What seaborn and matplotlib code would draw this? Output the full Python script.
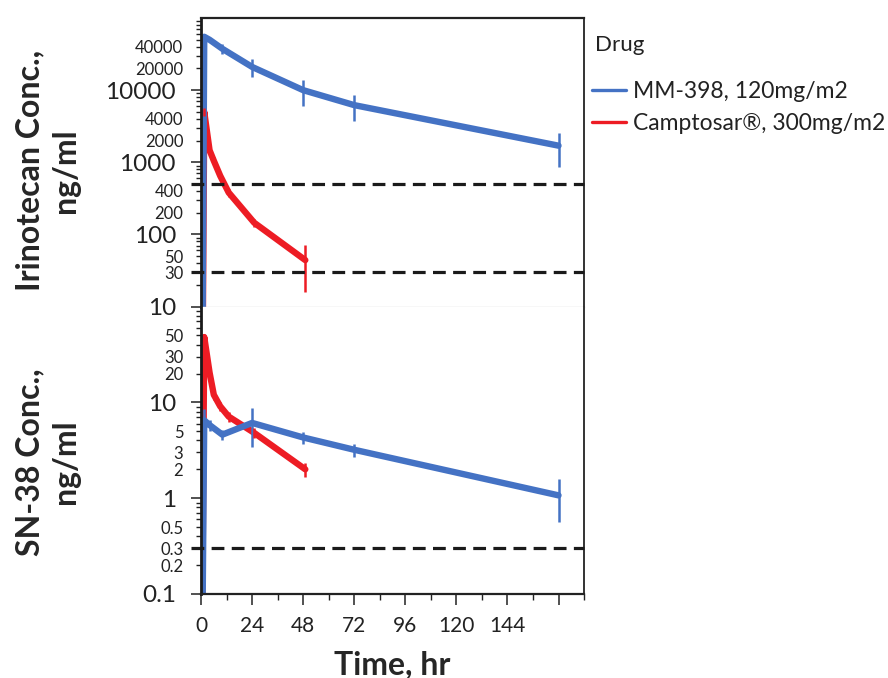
import numpy as np
import pandas as pd
import seaborn as sns
import matplotlib
matplotlib.use('Agg')
import matplotlib.pyplot as plt


drugs = ['MM-398, 120mg/m2', 'Camptosar®, 300mg/m2']
drug_colors = ['#4472c4', '#ed1c24']

# MM-398 sampling times (hr), mean concentrations and sd
mm_time = [0, 1.5, 4, 10, 24, 48, 72, 168]
mm_irino = [0.001, 55000, 50000, 37500, 21000, 10000, 6200, 1700]
mm_irino_sd = [0, 0, 0, 5500, 6000, 4000, 2500, 830]
mm_sn38 = [0.001, 6.5, 5.8, 4.6, 6.1, 4.3, 3.2, 1.07]
mm_sn38_sd = [0, 2.0, 0.8, 0.6, 2.7, 0.6, 0.5, 0.5]

# Camptosar sampling times (hr), mean concentrations and sd
cpt_time = [0, 1.5, 4, 6, 9, 13, 25, 49]
cpt_irino = [0.001, 5000, 1470, 1050, 650, 380, 145, 44]
cpt_irino_sd = [0, 600, 150, 120, 80, 50, 20, 28]
cpt_sn38 = [0.001, 48, 20.5, 12, 9.1, 7.1, 4.8, 2.0]
cpt_sn38_sd = [0, 4, 2, 1.5, 1.0, 0.8, 0.6, 0.35]

# quantitation limits (dashed lines)
irino_limits = [500, 30]
sn38_limits = [0.3]

irino_major = [10, 100, 1000, 10000]
irino_minor_labels = [30, 50, 200, 400, 2000, 4000, 20000, 40000]
sn38_major = [0.1, 1, 10]
sn38_minor_labels = [0.2, 0.3, 0.5, 2, 3, 5, 20, 30, 50]

x_major = [0, 24, 48, 72, 96, 120, 144, 168]
x_labels = ['0', '24', '48', '72', '96', '120', '144', '']
x_minor = list(range(0, 181, 12))


def make_frame(mm_vals, cpt_vals):
    df_mm = pd.DataFrame({'time': mm_time, 'conc': mm_vals, 'drug': drugs[0]})
    df_cpt = pd.DataFrame({'time': cpt_time, 'conc': cpt_vals, 'drug': drugs[1]})
    return pd.concat([df_mm, df_cpt], ignore_index=True)


def draw_panel(ax, df, mm_sd, cpt_sd, ylim, major, minor_labels, limits):
    # Camptosar drawn first so the MM-398 line sits on top of it
    sns.lineplot(data=df, x='time', y='conc', hue='drug', hue_order=drugs[::-1],
                 palette=drug_colors[::-1], linewidth=4.6, errorbar=None, legend=False, ax=ax)
    for drug, color, sd in zip(drugs, drug_colors, [mm_sd, cpt_sd]):
        sub = df[df['drug'] == drug]
        ax.errorbar(sub['time'], sub['conc'], yerr=sd, fmt='none', ecolor=color,
                    elinewidth=1.8, capsize=0, zorder=3)
    for v in limits:
        ax.axhline(v, xmin=-0.027, xmax=1, color='#1a1a1a', lw=2.3, dashes=(4, 2.3),
                   clip_on=False, zorder=4)

    ax.set_yscale('log')
    ax.set_ylim(*ylim)
    ax.set_xlim(0, 180)
    ax.set_yticks(major, [f'{v:g}' for v in major])
    lo, hi = int(np.log10(ylim[0])), int(np.log10(ylim[1]))
    minor = []
    for d in range(lo, hi):
        for m in range(2, 10):
            minor.append(round(m * 10.0 ** d, 6))
    minor_text = [f'{v:g}' if np.any(np.isclose(v, minor_labels)) else '' for v in minor]
    ax.set_yticks(minor, minor_text, minor=True)
    ax.tick_params(axis='y', which='major', length=7, width=1.1, labelsize=17.5, pad=11, color='#222222')
    ax.tick_params(axis='y', which='minor', length=3.8, width=1.0, labelsize=12, pad=9, color='#222222')
    ax.set_xlabel('')


sns.set_style('ticks')
plt.rcParams['font.family'] = ['Lato', 'DejaVu Sans']
plt.rcParams['text.color'] = '#222222'
plt.rcParams['xtick.labelcolor'] = '#222222'
plt.rcParams['ytick.labelcolor'] = '#222222'

fig = plt.figure(figsize=(8.88, 6.78), dpi=100)
ax_top = fig.add_axes([0.2264, 0.5479, 0.4313, 0.4255])
ax_bot = fig.add_axes([0.2264, 0.1239, 0.4313, 0.4240])

draw_panel(ax_top, make_frame(mm_irino, cpt_irino), mm_irino_sd, cpt_irino_sd,
           (10, 100000), irino_major, irino_minor_labels, irino_limits)
draw_panel(ax_bot, make_frame(mm_sn38, cpt_sn38), mm_sn38_sd, cpt_sn38_sd,
           (0.1, 100), sn38_major, sn38_minor_labels, sn38_limits)

ax_top.tick_params(axis='x', which='both', bottom=False, labelbottom=False)
ax_bot.set_xticks(x_major, x_labels)
ax_bot.set_xticks(x_minor, minor=True)
ax_bot.tick_params(axis='x', which='major', length=8, width=1.1, labelsize=15, pad=8, color='#222222')
ax_bot.tick_params(axis='x', which='minor', length=4, width=1.0, color='#222222')

for ax in [ax_top, ax_bot]:
    ax.spines['left'].set_linewidth(2.0)
    ax.spines['left'].set_color('#1a1a1a')
    ax.spines['right'].set_linewidth(1.4)
    ax.spines['right'].set_color('#333333')
ax_top.spines['top'].set_linewidth(1.6)
ax_top.spines['top'].set_color('#222222')
ax_top.spines['bottom'].set_linewidth(1.0)
ax_top.spines['bottom'].set_color('#d9d9d9')
ax_bot.spines['top'].set_visible(False)
ax_bot.spines['bottom'].set_linewidth(1.6)
ax_bot.spines['bottom'].set_color('#222222')

ax_top.set_ylabel('Irinotecan Conc.,\nng/ml', fontsize=23, fontweight='bold', linespacing=1.3)
ax_top.yaxis.set_label_coords(-0.316, 0.47)
ax_bot.set_ylabel('SN-38 Conc.,\nng/ml', fontsize=23, fontweight='bold', linespacing=1.3)
ax_bot.yaxis.set_label_coords(-0.316, 0.46)
ax_bot.set_xlabel('Time, hr', fontsize=23, fontweight='bold')
ax_bot.xaxis.set_label_coords(0.5, -0.195)

handles = [plt.Line2D([], [], color=c, lw=2.4) for c in drug_colors]
fig.text(595 / 888, 1 - 45 / 678, 'Drug', fontsize=16, va='center', ha='left')
fig.legend(handles, drugs, loc='upper left', bbox_to_anchor=(592 / 888, 1 - 81 / 678),
           frameon=False, fontsize=16.5, handlelength=1.5, handletextpad=0.3,
           labelspacing=0.5, borderaxespad=0, borderpad=0)

fig.savefig('out.png', dpi=100)
